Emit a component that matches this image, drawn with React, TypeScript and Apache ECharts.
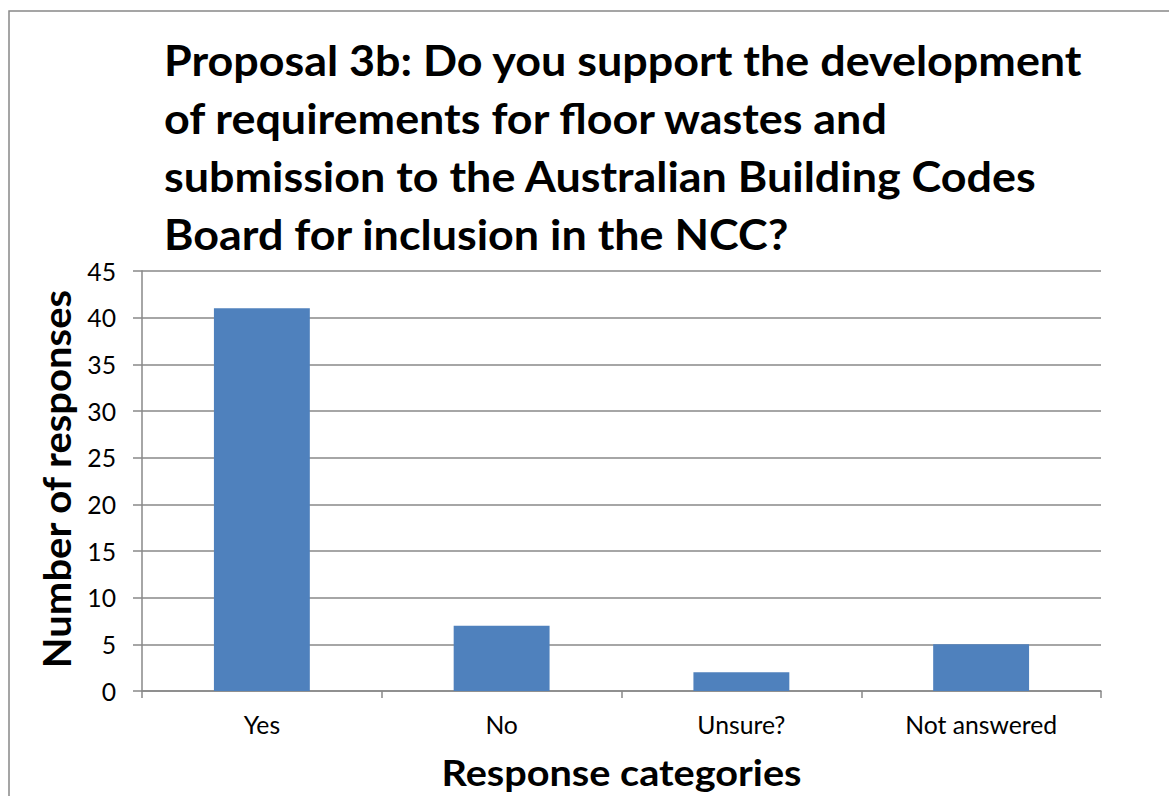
import React, { useEffect, useRef } from "react";
import * as echarts from "echarts";

// ---- data ----
const categories: string[] = ["Yes", "No", "Unsure?", "Not answered"];
const responses: number[] = [41, 7, 2, 5];
const yMin = 0;
const yMax = 45;
const yInterval = 5;
const titleLines: string[] = [
  "Proposal 3b: Do you support the development",
  "of requirements for floor wastes and",
  "submission to the Australian Building Codes",
  "Board for inclusion in the NCC?",
];
const xAxisTitle = "Response categories";
const yAxisTitle = "Number of responses";

const FAMILY = "Lato, 'Open Sans', 'Noto Sans', sans-serif";
const CAP = 0.7165; // Lato cap-height ratio

function measure(text: string, font: string): number {
  const c = document.createElement("canvas").getContext("2d");
  if (!c) return text.length * 10;
  c.font = font;
  return c.measureText(text).width;
}

export default function App() {
  const ref = useRef<HTMLDivElement>(null);

  useEffect(() => {
    if (!ref.current) return;
    const chart = echarts.init(ref.current, null, { renderer: "svg" });

    // title sizing
    const titleCap = 29.5;
    const titleFs = titleCap / CAP;
    const titleW = measure(titleLines[0], `bold ${titleFs}px ${FAMILY}`);
    const titleSx = 919 / titleW;

    // axis names
    const xnCap = 25.5;
    const xnFs = xnCap / CAP;
    const xnSx = 360 / measure(xAxisTitle, `bold ${xnFs}px ${FAMILY}`);
    const ynCap = 27;
    const ynFs = ynCap / CAP;
    const ynSx = 380 / measure(yAxisTitle, `bold ${ynFs}px ${FAMILY}`);

    // tick label font
    const tickFs = (152 / measure("Not answered", `100px ${FAMILY}`)) * 100;

    const gray = "#888888";

    const graphics: any[] = [
      {
        type: "rect",
        silent: true,
        shape: { x: 9, y: 11, width: 1400, height: 1000 },
        style: { fill: "none", stroke: gray, lineWidth: 1.5 },
      },
      ...titleLines.map((t, i) => ({
        type: "text",
        x: 164,
        y: 73 + 58 * i - titleCap / 2 + 1,
        scaleX: titleSx,
        style: {
          text: t,
          fontSize: titleFs,
          fontWeight: "bold",
          fontFamily: FAMILY,
          fill: "#000",
          align: "left",
          verticalAlign: "middle",
        },
      })),
      {
        type: "text",
        x: 621.5,
        y: 784 - xnCap / 2 + 1,
        scaleX: xnSx,
        style: {
          text: xAxisTitle,
          fontSize: xnFs,
          fontWeight: "bold",
          fontFamily: FAMILY,
          fill: "#000",
          align: "center",
          verticalAlign: "middle",
        },
      },
      {
        type: "text",
        x: 56,
        y: 479,
        rotation: Math.PI / 2,
        scaleX: ynSx,
        style: {
          text: yAxisTitle,
          fontSize: ynFs,
          fontWeight: "bold",
          fontFamily: FAMILY,
          fill: "#000",
          align: "center",
          verticalAlign: "middle",
        },
      },
    ];

    chart.setOption({
      animation: false,
      backgroundColor: "#ffffff",
      textStyle: { fontFamily: FAMILY },
      grid: { left: 142, right: 68, top: 271, bottom: 105 },
      xAxis: {
        type: "category",
        data: categories,
        boundaryGap: true,
        axisLine: { show: true, lineStyle: { color: gray, width: 1.5 } },
        axisTick: {
          show: true,
          alignWithLabel: false,
          interval: 0,
          length: 7,
          lineStyle: { color: gray, width: 1.5 },
        },
        axisLabel: {
          interval: 0,
          margin: 21,
          fontSize: tickFs,
          color: "#000",
          fontFamily: FAMILY,
        },
        splitLine: { show: false },
      },
      yAxis: {
        type: "value",
        min: yMin,
        max: yMax,
        interval: yInterval,
        axisLine: { show: true, lineStyle: { color: gray, width: 1.5 } },
        axisTick: {
          show: true,
          inside: false,
          length: 9,
          lineStyle: { color: gray, width: 1.5 },
        },
        axisLabel: {
          margin: 26,
          fontSize: tickFs,
          color: "#000",
          fontFamily: FAMILY,
        },
        splitLine: { show: true, lineStyle: { color: gray, width: 1.5 } },
      },
      series: [
        {
          type: "bar",
          data: responses,
          barWidth: "40%",
          itemStyle: { color: "#4F81BD" },
        },
      ],
      graphic: graphics,
    });

    return () => chart.dispose();
  }, []);

  return (
    <div
      ref={ref}
      style={{ position: "absolute", left: 0, top: 0, width: 1169, height: 796 }}
    />
  );
}
